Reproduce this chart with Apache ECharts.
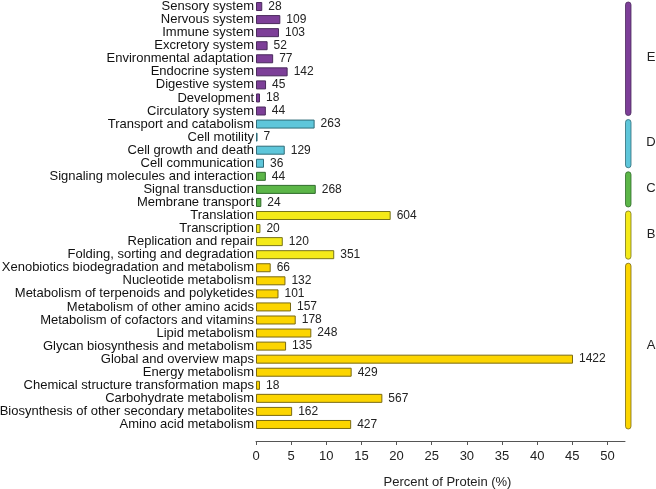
<!DOCTYPE html>
<html>
<head>
<meta charset="utf-8">
<script src="https://cdn.jsdelivr.net/npm/echarts@6/dist/echarts.min.js"></script>
<style>html,body{margin:0;padding:0;background:#fff;}#c{width:656px;height:489px;}</style>
</head>
<body>
<div id="c"></div>
<script>
// categories listed bottom -> top
var categories = [
  'Amino acid metabolism',
  'Biosynthesis of other secondary metabolites',
  'Carbohydrate metabolism',
  'Chemical structure transformation maps',
  'Energy metabolism',
  'Global and overview maps',
  'Glycan biosynthesis and metabolism',
  'Lipid metabolism',
  'Metabolism of cofactors and vitamins',
  'Metabolism of other amino acids',
  'Metabolism of terpenoids and polyketides',
  'Nucleotide metabolism',
  'Xenobiotics biodegradation and metabolism',
  'Folding, sorting and degradation',
  'Replication and repair',
  'Transcription',
  'Translation',
  'Membrane transport',
  'Signal transduction',
  'Signaling molecules and interaction',
  'Cell communication',
  'Cell growth and death',
  'Cell motility',
  'Transport and catabolism',
  'Circulatory system',
  'Development',
  'Digestive system',
  'Endocrine system',
  'Environmental adaptation',
  'Excretory system',
  'Immune system',
  'Nervous system',
  'Sensory system'
];
// protein counts (bar labels)
var counts = [427,162,567,18,429,1422,135,248,178,157,101,132,66,
              351,120,20,604,
              24,268,44,
              36,129,7,263,
              44,18,45,142,77,52,103,109,28];
// percent of protein (bar lengths)
var percents = [13.54,5.14,17.98,0.57,13.61,45.10,4.28,7.87,5.65,4.98,3.20,4.19,2.09,
                11.13,3.81,0.63,19.16,
                0.76,8.50,1.40,
                1.14,4.09,0.22,8.34,
                1.40,0.57,1.43,4.50,2.44,1.65,3.27,3.46,0.89];
// groups (category index ranges, bottom -> top)
var groupNames  = ['A','B','C','D','E'];
var groupStart  = [0,13,17,20,24];
var groupEnd    = [12,16,19,23,32];
var groupFill   = ['#fcd500','#f4ea18','#5cb648','#5ec6da','#7d3f98'];
var groupStroke = ['#7a6a12','#77731a','#2e6a2a','#2f6c78','#4a2a5c'];
var xTicks = [0,5,10,15,20,25,30,35,40,45,50];

var barData = percents.map(function (p, i) {
  var g = 0;
  for (var k = 0; k < groupNames.length; k++) {
    if (i >= groupStart[k] && i <= groupEnd[k]) g = k;
  }
  return {
    value: p,
    itemStyle: { color: groupFill[g], borderColor: groupStroke[g], borderWidth: 1 }
  };
});
var bracketData = groupNames.map(function (n, k) {
  return [groupStart[k], groupEnd[k], k];
});

var FONT = '"Liberation Sans", Arial, sans-serif';
var chart = echarts.init(document.getElementById('c'), null, { renderer: 'canvas' });
chart.setOption({
  animation: false,
  backgroundColor: '#ffffff',
  grid: { left: 256, right: 31, top: 0, bottom: 58, containLabel: false, outerBoundsMode: 'none' },
  xAxis: {
    type: 'value', min: 0, max: 52.5, interval: 5,
    offset: 10,
    name: 'Percent of Protein (%)', nameLocation: 'middle', nameGap: 35,
    nameTextStyle: { fontFamily: FONT, fontSize: 13, color: '#222', padding: [0, 0, 0, 14] },
    axisLine: { show: true, lineStyle: { color: '#555', width: 1 } },
    axisTick: { show: true, length: 4, lineStyle: { color: '#555' }, customValues: xTicks },
    axisLabel: { fontFamily: FONT, fontSize: 13, color: '#222', margin: 9, customValues: xTicks },
    splitLine: { show: false }
  },
  yAxis: {
    type: 'category', data: categories,
    axisLine: { show: false }, axisTick: { show: false },
    axisLabel: { fontFamily: FONT, fontSize: 13, color: '#111', margin: 2, interval: 0, hideOverlap: false },
    splitLine: { show: false }
  },
  series: [
    {
      type: 'bar', data: barData, barWidth: 9,
      label: {
        show: true, position: 'right', distance: 6,
        fontFamily: FONT, fontSize: 12, color: '#222',
        formatter: function (p) { return counts[p.dataIndex]; }
      }
    },
    {
      type: 'custom',
      data: bracketData,
      clip: false,
      encode: { x: -1, y: [0, 1] },
      renderItem: function (params, api) {
        var s = api.value(0), e = api.value(1), k = api.value(2);
        var band = api.size([0, 1])[1];
        var pTop = api.coord([0, e]);
        var pBot = api.coord([0, s]);
        var top = pTop[1] - band / 2 + 2;
        var bot = pBot[1] + band / 2 - 2;
        var cs = params.coordSys;
        var x0 = cs.x + cs.width;
        return {
          type: 'group',
          children: [
            {
              type: 'rect',
              shape: { x: x0 + 0.5, y: top, width: 5.5, height: bot - top, r: 2.75 },
              style: { fill: groupFill[k], stroke: groupStroke[k], lineWidth: 0.8 }
            },
            {
              type: 'text',
              style: {
                text: groupNames[k], x: x0 + 26, y: (top + bot) / 2 - 1,
                align: 'center', verticalAlign: 'middle',
                font: '13px ' + FONT, fill: '#222'
              }
            }
          ]
        };
      }
    }
  ]
});
</script>
</body>
</html>
